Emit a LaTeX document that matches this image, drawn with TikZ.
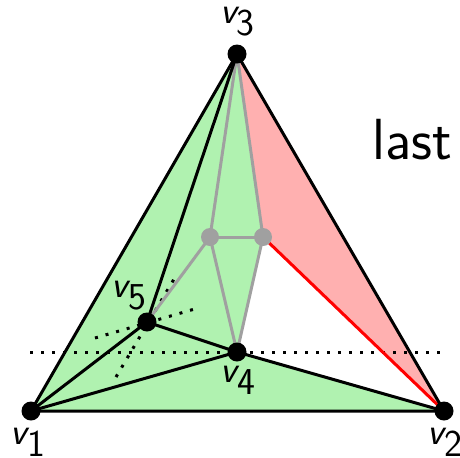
\documentclass[tikz,border=0pt]{standalone}
\usepackage{fontspec}
\newcommand{\vlab}[1]{{\itshape v}\raisebox{-6pt}{#1}}
\begin{document}
\begin{tikzpicture}[x=0.5pt,y=-0.5pt,
  edge/.style={line width=1.5pt,black},
  gedge/.style={line width=1.5pt,draw={rgb,255:red,160;green,160;blue,160}},
  redge/.style={line width=1.5pt,red},
  vdot/.style={circle,fill=black,inner sep=0pt,minimum size=9.5pt},
  gdot/.style={circle,fill={rgb,255:red,160;green,160;blue,160},inner sep=0pt,minimum size=9pt},
  dotline/.style={line width=1.5pt,dash pattern=on 1.5pt off 4pt},
  lab/.style={font=\sffamily\fontsize{19}{19}\selectfont,inner sep=0pt}]
\useasboundingbox (0,0) rectangle (460,457);
\definecolor{lgreen}{RGB}{176,242,176}
\definecolor{lred}{RGB}{255,176,176}
\coordinate (v1) at (31,411);
\coordinate (v2) at (444,411);
\coordinate (v3) at (237,54);
\coordinate (v4) at (237,352);
\coordinate (v5) at (147,322);
\coordinate (g1) at (210,237);
\coordinate (g2) at (263,237);
\fill[lgreen] (v1) -- (v3) -- (g2) -- (v4) -- (v2) -- cycle;
\fill[lred] (v3) -- (v2) -- (g2) -- cycle;
% dotted lines
\coordinate (d1a) at (30,352);
\coordinate (d1b) at (447,352);
\coordinate (d2a) at (95,338);
\coordinate (d2b) at (198,308);
\coordinate (d3a) at (116,377);
\coordinate (d3b) at (177,274);
\draw[dotline] (d1a) -- (d1b);
\draw[dotline] (d2a) -- (d2b);
\draw[dotline] (d3a) -- (d3b);
% gray edges
\draw[gedge] (v3) -- (g1);
\draw[gedge] (v3) -- (g2);
\draw[gedge] (g1) -- (g2);
\draw[gedge] (g1) -- (v5);
\draw[gedge] (g1) -- (v4);
\draw[gedge] (g2) -- (v4);
\draw[redge] (g2) -- (v2);
% black edges
\draw[edge] (v1) -- (v2) -- (v3) -- cycle;
\draw[edge] (v1) -- (v5);
\draw[edge] (v1) -- (v4);
\draw[edge] (v2) -- (v4);
\draw[edge] (v4) -- (v5);
\draw[edge] (v3) -- (v5);
% dots
\node[gdot] (G1) at (g1) {};
\node[gdot] (G2) at (g2) {};
\node[vdot] (V1) at (v1) {};
\node[vdot] (V2) at (v2) {};
\node[vdot] (V3) at (v3) {};
\node[vdot] (V4) at (v4) {};
\node[vdot] (V5) at (v5) {};
% labels
\node[lab] (L3) at (237.5,22) {\vlab{3}};
\node[lab] (L1) at (28,442) {\vlab{1}};
\node[lab] (L2) at (445,442) {\vlab{2}};
\node[lab] (L4) at (238,380) {\vlab{4}};
\node[lab] (L5) at (129,296) {\vlab{5}};
\node[font=\sffamily\fontsize{29}{29}\selectfont,inner sep=0pt] (last) at (412,140) {last};
\end{tikzpicture}
\end{document}
